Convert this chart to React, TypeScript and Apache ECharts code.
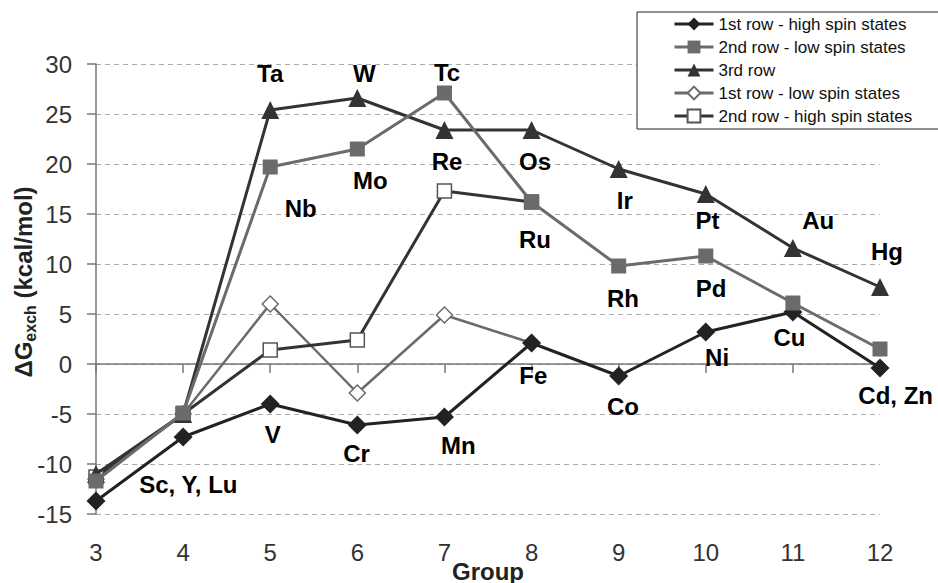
import React, { useEffect, useRef } from "react";
import * as echarts from "echarts";

const groups = [3, 4, 5, 6, 7, 8, 9, 10, 11, 12];
const yTicks = { min: -15, max: 30, interval: 5 };

const seriesNames = [
  "1st row - high spin states",
  "2nd row - low spin states",
  "3rd row",
  "1st row - low spin states",
  "2nd row - high spin states",
];

const row1High = [-13.7, -7.3, -4.0, -6.1, -5.3, 2.1, -1.2, 3.2, 5.2, -0.4];
const row2Low = [-11.7, -4.9, 19.7, 21.5, 27.1, 16.2, 9.8, 10.8, 6.1, 1.5];
const row3 = [-11.0, -5.0, 25.4, 26.6, 23.4, 23.4, 19.5, 17.0, 11.6, 7.7];
const row1Low = [-11.5, -5.0, 6.0, -2.9, 4.9, 2.1, null, null, null, null];
const row2High = [-11.3, -5.0, 1.4, 2.4, 17.3, 16.2, null, null, null, null];

// element annotations: [group position, value position, text]
const elementLabels: [number, number, string][] = [
  [4.06, -12.05, "Sc, Y, Lu"],
  [5.03, -7.05, "V"],
  [5.99, -8.9, "Cr"],
  [7.16, -8.1, "Mn"],
  [8.02, -1.1, "Fe"],
  [9.05, -4.2, "Co"],
  [10.13, 0.7, "Ni"],
  [10.96, 2.7, "Cu"],
  [12.18, -3.1, "Cd, Zn"],
  [5.35, 15.6, "Nb"],
  [6.15, 18.4, "Mo"],
  [7.03, 29.2, "Tc"],
  [8.04, 12.5, "Ru"],
  [9.05, 6.6, "Rh"],
  [10.06, 7.6, "Pd"],
  [5.0, 29.1, "Ta"],
  [6.08, 29.1, "W"],
  [7.03, 20.3, "Re"],
  [8.04, 20.3, "Os"],
  [9.07, 16.4, "Ir"],
  [10.02, 14.4, "Pt"],
  [11.29, 14.4, "Au"],
  [12.08, 11.3, "Hg"],
];

const FONT = "'Liberation Sans', Arial, Helvetica, sans-serif";

const toPairs = (vals: (number | null)[]) =>
  groups.map((g, i) => [g, vals[i]]).filter((p) => p[1] !== null);

export default function App() {
  const ref = useRef<HTMLDivElement>(null);

  useEffect(() => {
    document.body.style.margin = "0";
    if (!ref.current) return;
    const chart = echarts.init(ref.current, undefined, { renderer: "svg" });

    const lineSeries = (
      name: string,
      vals: (number | null)[],
      color: string,
      width: number,
      symbol: string,
      size: number,
      fill: string,
      border: string,
      z: number
    ) => ({
      type: "line",
      name,
      data: toPairs(vals),
      z,
      symbol,
      symbolSize: size,
      showAllSymbol: true,
      lineStyle: { color, width },
      itemStyle: {
        color: fill,
        borderColor: border,
        borderWidth: fill === "#ffffff" ? 1.5 : 0,
        opacity: 1,
      },
      emphasis: { disabled: true },
    });

    chart.setOption({
      animation: false,
      textStyle: { fontFamily: FONT },
      grid: {
        left: 96,
        right: 58,
        top: 64,
        bottom: 69,
        containLabel: false,
        outerBoundsMode: "none",
      },
      legend: {
        orient: "vertical",
        left: 668,
        top: 10,
        itemWidth: 39,
        itemHeight: 16,
        itemGap: 5,
        data: seriesNames,
        lineStyle: { width: 3 },
        textStyle: { fontSize: 17, color: "#111", fontFamily: FONT, lineHeight: 18 },
        z: 5,
      },
      graphic: [
        {
          type: "rect",
          z: 3,
          shape: { x: 637, y: 12, width: 320, height: 117 },
          style: { fill: "#ffffff", stroke: "#222", lineWidth: 1 },
          silent: true,
        },
        {
          type: "text",
          x: 23,
          y: 282,
          rotation: Math.PI / 2,
          style: {
            text: "{a|ΔG}{s|exch}{a| (kcal/mol)}",
            align: "center",
            verticalAlign: "middle",
            fill: "#222",
            rich: {
              a: { fontSize: 24, fontWeight: "bold", fontFamily: FONT, lineHeight: 30, fill: "#222" },
              s: { fontSize: 16, fontWeight: "bold", fontFamily: FONT, lineHeight: 17, verticalAlign: "bottom", fill: "#222" },
            },
          },
        },
        {
          type: "text",
          x: 488,
          y: 571,
          style: {
            text: "Group",
            align: "center",
            verticalAlign: "middle",
            fontSize: 24,
            fontWeight: "bold",
            fontFamily: FONT,
            fill: "#222",
          },
        },
      ],
      xAxis: {
        type: "value",
        min: 3,
        max: 12,
        interval: 1,
        axisLine: { lineStyle: { color: "#777", width: 1.5 } },
        axisTick: { show: true, length: 9, lineStyle: { color: "#777", width: 1.5 } },
        axisLabel: { fontSize: 24, color: "#333", margin: 26, fontFamily: FONT },
        splitLine: { show: false },
      },
      yAxis: {
        type: "value",
        min: yTicks.min,
        max: yTicks.max,
        interval: yTicks.interval,
        axisLine: { show: true, lineStyle: { color: "#777", width: 1.5 } },
        axisTick: { show: true, length: 9, lineStyle: { color: "#777", width: 1.5 } },
        axisLabel: { fontSize: 24, color: "#333", margin: 24, fontFamily: FONT },
        splitLine: { show: true, lineStyle: { color: "#aaa", width: 1, type: [5, 4] } },
      },
      series: [
        lineSeries(seriesNames[0], row1High, "#222222", 3, "diamond", 19, "#222222", "#222222", 6),
        lineSeries(seriesNames[1], row2Low, "#6b6b6b", 3, "rect", 15, "#6b6b6b", "#6b6b6b", 7),
        lineSeries(seriesNames[2], row3, "#333333", 3, "triangle", 18, "#333333", "#333333", 5),
        lineSeries(seriesNames[3], row1Low, "#6b6b6b", 2.5, "diamond", 16, "#ffffff", "#6b6b6b", 3),
        lineSeries(seriesNames[4], row2High, "#333333", 3, "rect", 14, "#ffffff", "#555555", 4),
        {
          type: "scatter",
          name: "labels",
          silent: true,
          clip: false,
          symbol: "circle",
          symbolSize: 1,
          itemStyle: { color: "rgba(0,0,0,0)" },
          z: 8,
          data: elementLabels.map((e) => ({ value: [e[0], e[1]], name: e[2] })),
          label: {
            show: true,
            position: "inside",
            formatter: (p: any) => p.name,
            fontSize: 24,
            fontWeight: "bold",
            color: "#000",
            opacity: 1,
            textBorderWidth: 0,
            fontFamily: FONT,
          },
          labelLayout: { hideOverlap: false },
          emphasis: { disabled: true },
        },
      ],
    });

    return () => chart.dispose();
  }, []);

  return <div ref={ref} style={{ width: 938, height: 583 }} />;
}
